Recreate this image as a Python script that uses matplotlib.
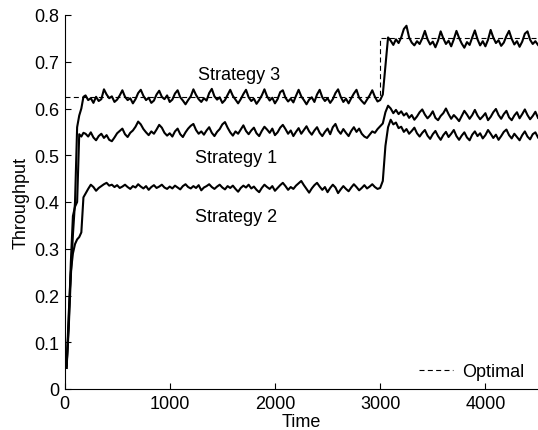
import numpy as np
import matplotlib.pyplot as plt

# -----------------------------
# Data
# -----------------------------
t_early = [20, 40, 60, 80, 100, 120, 140, 160, 180]
t_main = list(range(200, 4501, 25))
time = t_early + t_main

s3_early = [0.045, 0.13, 0.24, 0.33, 0.40, 0.56, 0.585, 0.600, 0.625]
s3_main = [0.628, 0.618, 0.622, 0.612, 0.625, 0.616, 0.620, 0.641, 0.630, 0.622,
           0.626, 0.614, 0.619, 0.628, 0.639, 0.625, 0.618, 0.622, 0.611, 0.620,
           0.633, 0.640, 0.627, 0.618, 0.623, 0.612, 0.617, 0.630, 0.638, 0.625,
           0.620, 0.628, 0.614, 0.619, 0.632, 0.639, 0.624, 0.617, 0.609, 0.618,
           0.626, 0.641, 0.629, 0.620, 0.614, 0.622, 0.617, 0.633, 0.642, 0.626,
           0.619, 0.624, 0.612, 0.618, 0.629, 0.640, 0.627, 0.619, 0.611, 0.620,
           0.631, 0.640, 0.624, 0.616, 0.621, 0.610, 0.618, 0.628, 0.641, 0.626,
           0.617, 0.623, 0.611, 0.620, 0.635, 0.639, 0.623, 0.615, 0.621, 0.613,
           0.627, 0.640, 0.626, 0.618, 0.609, 0.619, 0.624, 0.614, 0.630, 0.640,
           0.624, 0.616, 0.622, 0.612, 0.620, 0.633, 0.641, 0.625, 0.614, 0.621,
           0.611, 0.622, 0.632, 0.640, 0.623, 0.616, 0.610, 0.619, 0.628, 0.639,
           0.625, 0.615,
           0.618, 0.630, 0.690, 0.752, 0.745, 0.736, 0.748, 0.740, 0.752, 0.770,
           0.777, 0.752, 0.741, 0.735, 0.744, 0.738, 0.750, 0.766, 0.748, 0.737,
           0.743, 0.731, 0.745, 0.765, 0.750, 0.738, 0.745, 0.733, 0.748, 0.766,
           0.751, 0.739, 0.730, 0.742, 0.736, 0.752, 0.767, 0.748, 0.735, 0.744,
           0.733, 0.747, 0.768, 0.752, 0.740, 0.746, 0.734, 0.741, 0.755, 0.766,
           0.749, 0.737, 0.744, 0.732, 0.743, 0.760, 0.765, 0.747, 0.738, 0.744,
           0.736]

s1_early = [0.05, 0.14, 0.27, 0.37, 0.39, 0.40, 0.545, 0.540, 0.548]
s1_main = [0.546, 0.540, 0.549, 0.538, 0.532, 0.541, 0.546, 0.537, 0.543, 0.533,
           0.530, 0.538, 0.547, 0.552, 0.557, 0.545, 0.539, 0.548, 0.553, 0.561,
           0.572, 0.566, 0.556, 0.549, 0.543, 0.551, 0.546, 0.555, 0.565, 0.559,
           0.548, 0.542, 0.547, 0.540, 0.551, 0.557, 0.545, 0.539, 0.549, 0.557,
           0.563, 0.567, 0.554, 0.546, 0.551, 0.544, 0.553, 0.560, 0.548, 0.541,
           0.550, 0.556, 0.566, 0.571, 0.559, 0.549, 0.542, 0.551, 0.546, 0.555,
           0.564, 0.552, 0.545, 0.553, 0.559, 0.547, 0.541, 0.552, 0.561, 0.555,
           0.548, 0.557, 0.543, 0.549, 0.559, 0.565, 0.556, 0.546, 0.553, 0.541,
           0.550, 0.558, 0.546, 0.554, 0.562, 0.551, 0.544, 0.553, 0.560, 0.548,
           0.541, 0.550, 0.557, 0.545, 0.560, 0.567, 0.553, 0.546, 0.556, 0.548,
           0.541, 0.552, 0.560, 0.550, 0.557, 0.546, 0.540, 0.537, 0.544, 0.551,
           0.548, 0.556,
           0.562, 0.568, 0.592, 0.606, 0.600, 0.590, 0.597, 0.588, 0.594, 0.585,
           0.590, 0.580, 0.586, 0.576, 0.583, 0.592, 0.598, 0.587, 0.579, 0.585,
           0.594, 0.580, 0.575, 0.584, 0.590, 0.600, 0.588, 0.578, 0.586, 0.580,
           0.573, 0.584, 0.595, 0.587, 0.578, 0.586, 0.597, 0.585, 0.577, 0.583,
           0.590, 0.575, 0.582, 0.592, 0.599, 0.586, 0.578, 0.588, 0.595, 0.581,
           0.575, 0.585, 0.592, 0.579, 0.588, 0.598, 0.586, 0.577, 0.584, 0.593,
           0.580]

s2_early = [0.045, 0.16, 0.25, 0.29, 0.31, 0.32, 0.325, 0.335, 0.410]
s2_main = [0.418, 0.428, 0.437, 0.432, 0.424, 0.430, 0.434, 0.438, 0.441, 0.435,
           0.437, 0.432, 0.436, 0.430, 0.433, 0.437, 0.432, 0.428, 0.434, 0.431,
           0.438, 0.433, 0.429, 0.434, 0.426, 0.432, 0.436, 0.430, 0.433, 0.437,
           0.431, 0.428, 0.433, 0.429, 0.435, 0.431, 0.427, 0.434, 0.438, 0.432,
           0.429, 0.434, 0.430, 0.436, 0.425, 0.431, 0.434, 0.438, 0.432, 0.428,
           0.433, 0.437, 0.431, 0.427, 0.434, 0.430, 0.435, 0.428, 0.422, 0.430,
           0.435, 0.431, 0.437, 0.429, 0.433, 0.426, 0.421, 0.430, 0.437, 0.432,
           0.428, 0.434, 0.424, 0.430, 0.436, 0.441, 0.434, 0.426, 0.432, 0.428,
           0.435, 0.440, 0.445, 0.436, 0.428, 0.420, 0.429, 0.436, 0.441, 0.433,
           0.426, 0.432, 0.421, 0.430, 0.437, 0.431, 0.419, 0.427, 0.434, 0.428,
           0.423, 0.431, 0.438, 0.432, 0.425, 0.430, 0.436, 0.429, 0.433, 0.438,
           0.432, 0.428,
           0.430, 0.445, 0.520, 0.560, 0.576, 0.566, 0.570, 0.558, 0.561, 0.550,
           0.556, 0.546, 0.552, 0.559, 0.547, 0.540, 0.548, 0.554, 0.542, 0.535,
           0.545, 0.552, 0.541, 0.533, 0.543, 0.550, 0.539, 0.546, 0.554, 0.541,
           0.533, 0.542, 0.549, 0.538, 0.532, 0.544, 0.551, 0.541, 0.547, 0.536,
           0.543, 0.554, 0.546, 0.537, 0.544, 0.533, 0.541, 0.550, 0.555, 0.543,
           0.536, 0.546, 0.539, 0.532, 0.543, 0.551, 0.540, 0.534, 0.545, 0.549,
           0.538]

strategy3 = s3_early + s3_main
strategy1 = s1_early + s1_main
strategy2 = s2_early + s2_main

opt_time = [0, 3000, 4500]
opt_value = [0.625, 0.75, 0.75]

labels = ["Strategy 3", "Strategy 1", "Strategy 2"]
label_pos = [(1657, 0.673), (1629, 0.496), (1635, 0.370)]

xticks = [0, 1000, 2000, 3000, 4000]
yticks = [0, 0.1, 0.2, 0.3, 0.4, 0.5, 0.6, 0.7, 0.8]
ytick_labels = ["0", "0.1", "0.2", "0.3", "0.4", "0.5", "0.6", "0.7", "0.8"]

# -----------------------------
# Plot
# -----------------------------
plt.rcParams['font.family'] = ['Liberation Sans', 'DejaVu Sans']
fs = 13

fig = plt.figure(figsize=(5.38, 4.31), dpi=100)
ax = fig.add_axes([64.5/538, 41/431, (538-64.5)/538, 374/431])

ax.plot(opt_time, opt_value, drawstyle='steps-post', color='black',
        lw=0.8, dashes=(4.5, 3), label='Optimal')
ax.plot(time, strategy3, color='black', lw=1.5)
ax.plot(time, strategy1, color='black', lw=1.5)
ax.plot(time, strategy2, color='black', lw=1.5)

for lab, (x, y) in zip(labels, label_pos):
    ax.text(x, y, lab, fontsize=fs, ha='center', va='center')

ax.set_xlim(0, 4500)
ax.set_ylim(0, 0.8)
ax.set_xticks(xticks)
ax.set_yticks(yticks)
ax.set_yticklabels(ytick_labels)
ax.tick_params(direction='in', labelsize=fs, length=4, pad=4)
ax.spines['top'].set_visible(False)
ax.spines['right'].set_visible(False)
ax.set_xlabel("Time", fontsize=fs, labelpad=1)
ax.set_ylabel("Throughput", fontsize=fs, labelpad=3)

ax.legend(loc='lower right', frameon=False, fontsize=fs, handlelength=1.9,
          handletextpad=0.5, borderaxespad=0.1, bbox_to_anchor=(0.99, 0.0))

fig.savefig("out.png", dpi=100)
